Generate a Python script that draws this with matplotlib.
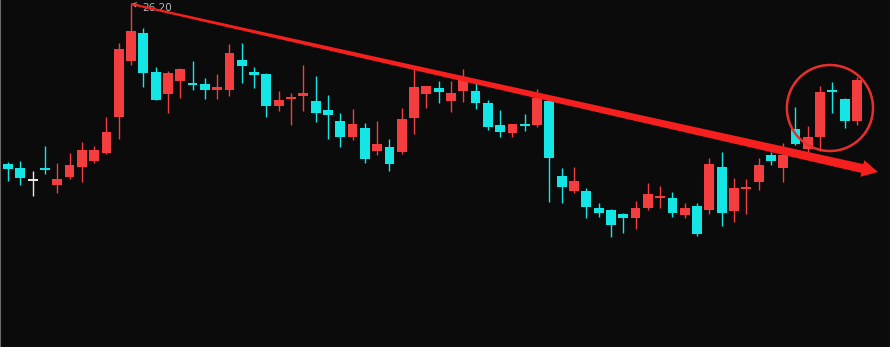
import numpy as np
import matplotlib
matplotlib.use("Agg")
import matplotlib.pyplot as plt
from matplotlib.patches import Polygon, Ellipse

# daily candles
opens = [22.20, 22.10, 21.78, 22.10, 21.68, 21.88, 22.13, 22.28, 22.48, 23.38,
         24.78, 25.48, 24.50, 23.95, 24.28, 24.23, 24.20, 24.05, 24.05, 24.80,
         24.50, 24.45, 23.65, 23.83, 23.90, 23.78, 23.55, 23.28, 22.88, 23.10,
         22.53, 22.63, 22.50, 23.35, 23.95, 24.10, 23.78, 24.03, 24.03, 23.73,
         23.18, 22.98, 23.20, 23.18, 23.78, 21.90, 21.53, 21.53, 21.10, 21.05,
         20.95, 20.85, 21.10, 21.35, 21.35, 20.93, 21.15, 21.05, 22.13, 21.03,
         21.58, 21.75, 22.43, 22.10, 23.08, 22.58, 22.88, 24.03, 23.83, 23.28]
highs = [22.25, 22.28, 22.03, 22.65, 22.23, 22.48, 22.75, 22.65, 23.38, 25.23,
         26.20, 25.60, 24.63, 24.53, 24.60, 24.78, 24.35, 24.45, 25.20, 25.23,
         24.63, 24.48, 24.03, 23.98, 24.68, 24.40, 23.93, 23.48, 23.58, 23.23,
         23.28, 22.83, 23.60, 24.58, 24.15, 24.28, 24.28, 24.58, 24.23, 23.80,
         23.55, 23.20, 23.45, 24.08, 23.78, 22.10, 22.13, 21.60, 21.23, 21.08,
         20.98, 21.28, 21.73, 21.65, 21.50, 21.23, 21.23, 22.35, 22.50, 21.85,
         21.83, 22.35, 22.50, 22.73, 23.63, 23.15, 24.15, 24.25, 23.85, 24.38]
lows = [21.78, 21.68, 21.40, 21.95, 21.48, 21.83, 21.75, 22.23, 22.45, 22.83,
        24.68, 24.13, 23.80, 23.48, 23.85, 24.05, 23.83, 23.83, 23.90, 24.23,
        24.10, 23.38, 23.53, 23.18, 23.53, 23.25, 22.83, 22.63, 22.80, 22.23,
        22.43, 22.03, 22.45, 22.95, 23.60, 23.73, 23.50, 23.75, 23.58, 23.05,
        22.88, 22.88, 23.03, 23.13, 21.25, 21.23, 21.48, 20.85, 20.88, 20.38,
        20.48, 20.58, 21.05, 21.10, 20.88, 20.85, 20.40, 20.95, 20.65, 20.75,
        20.95, 21.55, 22.18, 21.75, 22.68, 22.50, 22.53, 23.48, 23.10, 23.18]
closes = [22.08, 21.85, 21.78, 22.05, 21.83, 22.18, 22.55, 22.55, 23.00, 25.08,
          25.53, 24.48, 23.80, 24.48, 24.58, 24.18, 24.05, 24.13, 24.98, 24.65,
          24.43, 23.65, 23.80, 23.88, 23.98, 23.48, 23.43, 22.88, 23.20, 22.33,
          22.70, 22.20, 23.33, 24.13, 24.15, 24.00, 23.98, 24.33, 23.73, 23.13,
          23.00, 23.20, 23.15, 23.85, 22.35, 21.63, 21.78, 21.13, 20.98, 20.68,
          20.85, 21.10, 21.45, 21.40, 20.98, 21.10, 20.45, 22.20, 20.98, 21.60,
          21.60, 22.18, 22.28, 22.43, 22.70, 22.88, 24.00, 24.00, 23.28, 24.30]

max_label = "26.20"
max_idx = 10

# trend line drawn over the highs, and the breakout circle
trend_start = (10, 26.20)
trend_end = (70.7, 22.00)
circle_center = (66.8, 23.60)
circle_w, circle_h = 7.0, 2.15

UP = "#f43d3f"
DOWN = "#14e6e6"
FLAT = "#e8e8e8"
BG = "#0b0b0b"

fig = plt.figure(figsize=(8.9, 3.47), dpi=100, facecolor=BG)
ax = fig.add_axes([0, 0, 1, 1], facecolor=BG)

x = np.arange(len(opens))
o = np.array(opens)
c = np.array(closes)
colors = [UP if cc > oo else (DOWN if cc < oo else FLAT) for oo, cc in zip(o, c)]

ax.vlines(x, lows, highs, colors=colors, linewidth=1.0, zorder=2)
bottoms = np.minimum(o, c)
heights = np.maximum(np.abs(c - o), 0.05)
ax.bar(x, heights, bottom=bottoms, width=0.8, color=colors, linewidth=0, zorder=3)

ax.set_xlim(-0.65, 71.68)
ax.set_ylim(17.625, 26.30)
ax.set_xticks([])
ax.set_yticks([])
for side in ["left", "bottom", "right"]:
    ax.spines[side].set_color("#6a6a6a")
    ax.spines[side].set_linewidth(0.8)
ax.spines["top"].set_visible(False)

# max price marker
ax.annotate(max_label, xy=(max_idx, 26.20), xytext=(max_idx + 0.9, 26.10),
            color="#b8b8b8", fontsize=7.5, va="center", ha="left",
            arrowprops=dict(arrowstyle="->", color="#b8b8b8", lw=0.7,
                            shrinkA=0, shrinkB=0), zorder=5)

# tapered red arrow, built in pixel space
S = ax.transData.transform(trend_start)
T = ax.transData.transform(trend_end)
u = (T - S) / np.hypot(*(T - S))
n = np.array([-u[1], u[0]])
head_len, head_half = 16, 8.5
w0, w1 = 1.0, 4.5
N = T - u * head_len
pts = [S + n * w0, N + n * w1, N + n * head_half, T,
       N - n * head_half, N - n * w1, S - n * w0]
ax.add_patch(Polygon(pts, closed=True, transform=None, facecolor="#f5201d",
                     edgecolor="none", zorder=6))

ax.add_patch(Ellipse(circle_center, circle_w, circle_h, fill=False,
                     edgecolor="#e8302a", linewidth=1.8, zorder=6))

fig.savefig("out.png", dpi=100, facecolor=BG)
